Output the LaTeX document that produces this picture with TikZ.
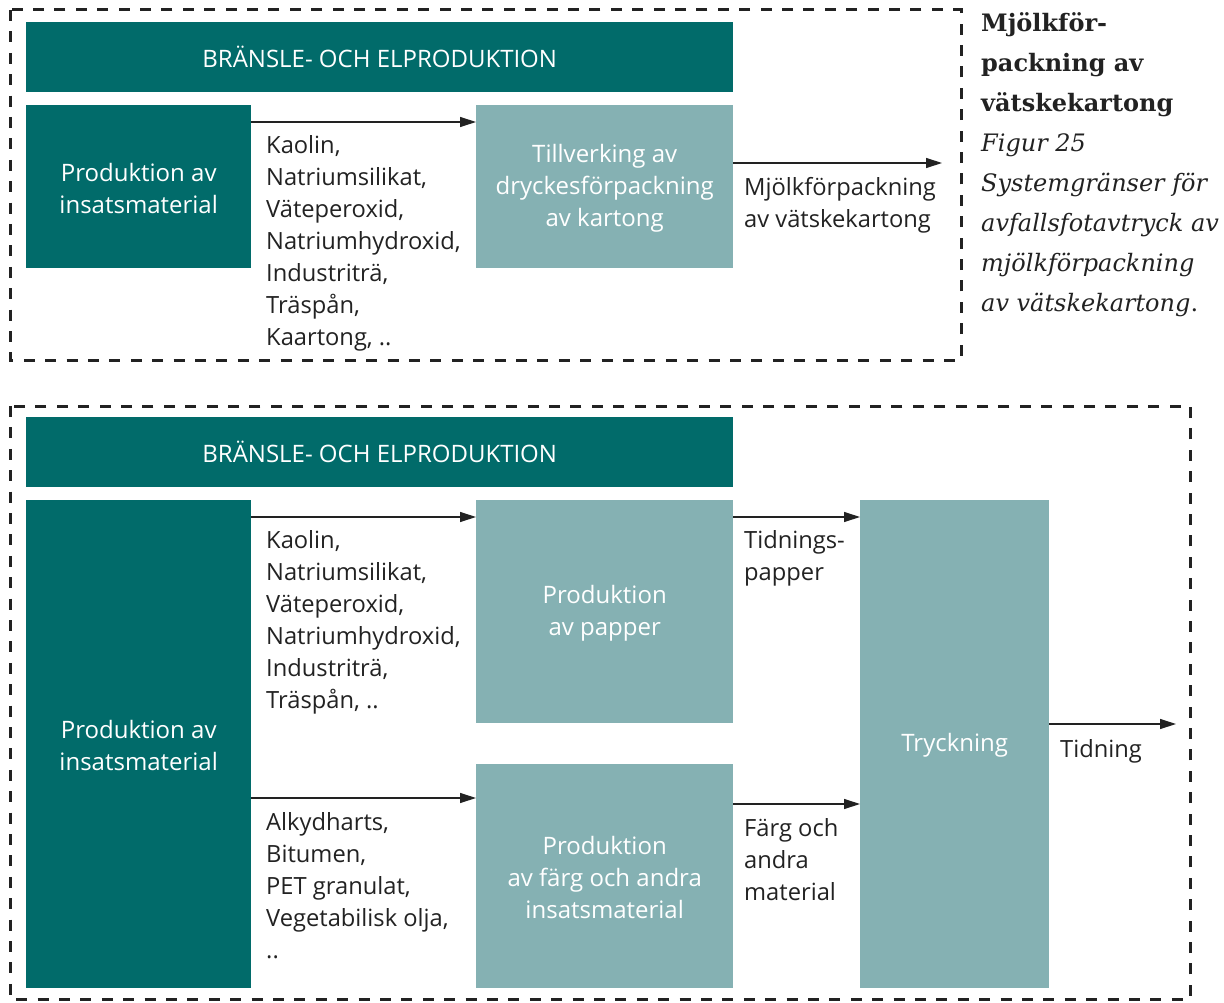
\documentclass[tikz,border=0pt]{standalone}
\usepackage{fontspec}
\setmainfont{Open Sans}
\newfontfamily\capfont{DejaVu Serif}
\usetikzlibrary{arrows.meta}
\definecolor{dark}{HTML}{016B6A}
\definecolor{light}{HTML}{85B1B3}
\definecolor{framecol}{HTML}{222222}
\definecolor{txt}{HTML}{222222}
\newcommand{\fl}{\rule{0pt}{21pt}}
\begin{document}
\begin{tikzpicture}[x=1pt,y=-1pt,
  box/.style={anchor=north west, inner sep=0pt, align=center, text=white,
    font=\fontsize{24}{32}\selectfont},
  darkbox/.style={box, fill=dark},
  lightbox/.style={box, fill=light},
  lbl/.style={inner sep=0pt, align=left, text=txt, font=\fontsize{23.7}{32}\selectfont},
  arr/.style={draw=txt, line width=1.2pt, -{Triangle[length=16pt,width=10pt]}},
  sysframe/.style={draw=framecol, line width=3pt, dash pattern=on 11pt off 10.4pt}]
\useasboundingbox (0,0) rectangle (1224,1003);

% ---------- top system ----------
\draw[sysframe] (10,10) rectangle (961,360);
\node[darkbox, minimum width=707, minimum height=70] (ban1) at (26,22) {\fl BRÄNSLE- OCH ELPRODUKTION};
\node[darkbox, minimum width=225, minimum height=163] (ins1) at (26,105) {\fl Produktion av\\insatsmaterial};
\node[lightbox, minimum width=257, minimum height=163] (till) at (476,105) {\fl Tillverking av\\dryckesförpackning\\av kartong};
\draw[arr] ([yshift=-17pt]ins1.north east) -- ([yshift=-17pt]till.north west);
\node[lbl, anchor=north west] (mat1) at (266,135) {Kaolin,\\Natriumsilikat,\\Väteperoxid,\\Natriumhydroxid,\\Industriträ,\\Träspån,\\Kaartong, ..};
\coordinate (out1) at (942,163);
\draw[arr] (till.east |- out1) -- (out1);
\node[lbl, anchor=north west] (prod1) at (744,177) {Mjölkförpackning\\av vätskekartong};

% ---------- caption ----------
\node[inner sep=0pt, anchor=north west, align=left, text=txt,
  font=\capfont\fontsize{24}{40}\selectfont] (cap) at (981,12)
  {\textbf{Mjölkför-}\\\textbf{packning av}\\\textbf{vätskekartong}\\\textit{Figur 25}\\\textit{Systemgränser för}\\\textit{avfallsfotavtryck av}\\\textit{mjölkförpackning}\\\textit{av vätskekartong}.};

% ---------- bottom system ----------
\draw[sysframe] (10,406) rectangle (1190,999);
\node[darkbox, minimum width=707, minimum height=70] (ban2) at (26,417) {\fl BRÄNSLE- OCH ELPRODUKTION};
\node[darkbox, minimum width=225, minimum height=488] (ins2) at (26,500) {\fl Produktion av\\insatsmaterial};
\node[lightbox, minimum width=257, minimum height=223] (pap) at (476,500) {\fl Produktion\\av papper};
\node[lightbox, minimum width=257, minimum height=224] (farg) at (476,764) {\fl Produktion\\av färg och andra\\insatsmaterial};
\node[lightbox, minimum width=189, minimum height=488] (tryck) at (860,500) {\fl Tryckning};

\draw[arr] ([yshift=-17pt]ins2.north east) -- ([yshift=-17pt]pap.north west);
\node[lbl, anchor=north west] (mat2) at (266,530) {Kaolin,\\Natriumsilikat,\\Väteperoxid,\\Natriumhydroxid,\\Industriträ,\\Träspån, ..};
\path ([yshift=-34pt]farg.north west) coordinate (fin);
\draw[arr] (fin -| ins2.east) -- (fin);
\node[lbl, anchor=north west] (mat3) at (266,812) {Alkydharts,\\Bitumen,\\PET granulat,\\Vegetabilisk olja,\\..};

\draw[arr] ([yshift=-17pt]pap.north east) -- ([yshift=-17pt]tryck.north west);
\node[lbl, anchor=north west] (tp) at (744,530) {Tidnings-\\papper};
\path ([yshift=-40pt]farg.north east) coordinate (fout);
\draw[arr] (fout) -- (fout -| tryck.west);
\node[lbl, anchor=north west] (fm) at (744,818) {Färg och\\andra\\material};

\coordinate (out2) at (1176,724);
\draw[arr] (tryck.east |- out2) -- (out2);
\node[lbl, anchor=base west] (tid) at (1060,757) {Tidning};
\end{tikzpicture}
\end{document}
